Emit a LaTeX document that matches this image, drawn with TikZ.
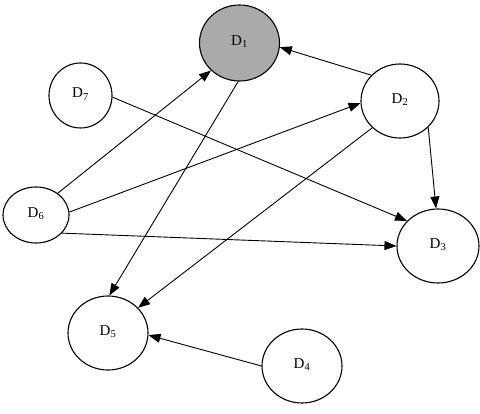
\documentclass[tikz,border=0pt]{standalone}
\usepackage{fontspec}
\setmainfont{Liberation Serif}
\usetikzlibrary{shapes.geometric,arrows.meta}
\definecolor{dgray}{RGB}{170,170,170}
\tikzset{
  dnode/.style={draw=black, line width=1.1pt, ellipse, inner sep=0pt, fill=white,
    font=\fontsize{15}{17}\selectfont},
  conn/.style={line width=0.9pt, -{Triangle[length=12pt,width=9pt]}},
}
\newcommand{\dlab}[2][5pt]{\raisebox{#1}{D\textsubscript{#2}}}
\begin{document}
\begin{tikzpicture}[x=1pt,y=-1pt]
\useasboundingbox (0,0) rectangle (480,414);
\node[dnode, fill=dgray, minimum width=80pt, minimum height=76pt] (d1) at (239.5,43) {\dlab{1}};
\node[dnode, minimum width=63pt, minimum height=65pt] (d7) at (80.5,95.5) {\dlab{7}};
\node[dnode, minimum width=78pt, minimum height=74pt] (d2) at (400,101) {\dlab{2}};
\node[dnode, minimum width=66pt, minimum height=56pt] (d6) at (36,215) {\dlab{6}};
\node[dnode, minimum width=82pt, minimum height=74pt] (d3) at (438,246) {\dlab{3}};
\node[dnode, minimum width=80pt, minimum height=74pt] (d5) at (108,333) {\dlab{5}};
\node[dnode, minimum width=80pt, minimum height=74pt] (d4) at (302,366) {\dlab{4}};

\draw[conn] (d2.138) -- (d1.354);
\draw[conn] (d6.45) -- (d1.224);
\draw[conn] (d1.268) -- (d5.88);
\draw[conn] (d7.357) -- (d3.141);
\draw[conn] (d6.5) -- (d2.183);
\draw[conn] (d2.317) -- (d3.93);
\draw[conn] (d2.224) -- (d5.40);
\draw[conn] (d6.325) -- (d3.180);
\draw[conn] (d4.180) -- (d5.357);
\end{tikzpicture}
\end{document}
